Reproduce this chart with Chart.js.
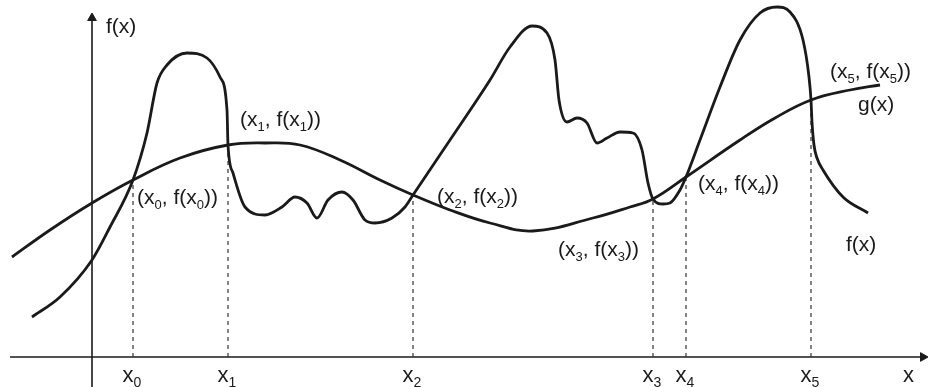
<!DOCTYPE html>
<html>
<head>
<meta charset="utf-8">
<script src="https://cdn.jsdelivr.net/npm/chart.js@4.4.1/dist/chart.umd.min.js"></script>
<style>
  html, body { margin: 0; padding: 0; background: #ffffff; }
  #wrap { width: 928px; height: 387px; }
</style>
</head>
<body>
<div id="wrap"><canvas id="plot" width="928" height="387"></canvas></div>
<script>
// f(x): the wiggly curve (origin at the axes crossing)
const fX = [-60, -32, 0, 18, 41, 55, 65, 75, 95, 115, 128, 135, 136, 141, 153, 173, 190, 203, 215, 225, 236, 250, 261, 273, 283, 300, 313, 321,
            358, 398, 418, 440, 455, 463, 467, 475, 485, 495, 505, 515, 528, 541, 550, 556, 561, 571, 578, 588, 594,
            608, 628, 648, 668, 685, 698, 711, 717, 719, 720, 722, 725, 731, 751, 776];
const fY = [40, 60, 97, 130, 177, 224, 274, 292, 304, 299, 280, 247, 212, 184, 150, 142, 150, 160, 154, 139, 157, 165, 157, 137, 134, 139, 150, 162,
            217, 277, 310, 331, 324, 297, 257, 235, 239, 234, 214, 219, 225, 224, 207, 174, 158, 153, 154, 167, 180,
            217, 270, 317, 344, 350, 345, 317, 280, 257, 235, 212, 199, 187, 160, 144];

// g(x): the smooth curve
const gX = [-80, -42, 0, 41, 88, 136, 173, 208, 248, 288, 321, 358, 398, 441, 501, 538, 561, 594, 648, 683, 719, 758, 788];
const gY = [100, 127, 154, 177, 199, 212, 214, 212, 197, 177, 162, 147, 134, 126, 139, 150, 158, 180, 217, 239, 257, 267, 272];

// points where f and g meet, and their tick labels
const crossX = [41, 136, 321, 561, 594, 719];
const crossY = [177, 212, 162, 158, 180, 257];
const tickLabels = ['x₀', 'x₁', 'x₂', 'x₃', 'x₄', 'x₅'];
const pointLabels = ['(x₀, f(x₀))', '(x₁, f(x₁))', '(x₂, f(x₂))', '(x₃, f(x₃))', '(x₄, f(x₄))', '(x₅, f(x₅))'];

const INK = '#1a1a1a';
const FONT = '"Liberation Sans", Arial, sans-serif';
const SUBS = '₀₁₂₃₄₅₆₇₈₉';

// draw text where ₀..₉ are drawn as lowered small digits
function drawRich(ctx, str, x, y, size, align) {
    const parts = [...str].map(ch => {
        const i = SUBS.indexOf(ch);
        return i >= 0 ? { t: String(i), sub: true } : { t: ch, sub: false };
    });
    const subSize = Math.round(size * 0.64);
    let total = 0;
    parts.forEach(p => {
        ctx.font = `${p.sub ? subSize : size}px ${FONT}`;
        p.w = ctx.measureText(p.t).width;
        total += p.w;
    });
    let cx = align === 'center' ? x - total / 2 : x;
    ctx.textAlign = 'left';
    ctx.textBaseline = 'alphabetic';
    parts.forEach(p => {
        ctx.font = `${p.sub ? subSize : size}px ${FONT}`;
        ctx.fillText(p.t, cx, p.sub ? y + size * 0.24 : y);
        cx += p.w;
    });
}

// label anchors in data units (left edge, baseline)
const labelSpots = [[45, 153], [148, 231], [345, 154], [466, 101], [606, 167], [738, 279]];

const textPlugin = {
    id: 'figureText',
    afterDatasetsDraw(chart) {
        const { ctx, scales: { x, y } } = chart;
        ctx.save();
        ctx.fillStyle = INK;
        pointLabels.forEach((s, i) => {
            drawRich(ctx, s, x.getPixelForValue(labelSpots[i][0]), y.getPixelForValue(labelSpots[i][1]), 21, 'left');
        });
        tickLabels.forEach((s, i) => {
            drawRich(ctx, s, x.getPixelForValue(crossX[i]) - 1, y.getPixelForValue(-25), 22, 'center');
        });
        drawRich(ctx, 'f(x)', x.getPixelForValue(14), y.getPixelForValue(324), 21, 'left');
        drawRich(ctx, 'g(x)', x.getPixelForValue(766), y.getPixelForValue(246), 21, 'left');
        drawRich(ctx, 'f(x)', x.getPixelForValue(754), y.getPixelForValue(106), 21, 'left');
        drawRich(ctx, 'x', x.getPixelForValue(811), y.getPixelForValue(-25), 22, 'left');
        ctx.restore();
    }
};

// dashed drops from each crossing to the x axis, split by gaps
const drops = [];
crossX.forEach((cx, i) => {
    drops.push({ x: cx, y: 0 }, { x: cx, y: crossY[i] }, { x: cx, y: null });
});

const line = (data, extra) => Object.assign({
    data, borderColor: INK, pointRadius: 0, fill: false, clip: false, spanGaps: false
}, extra);

new Chart(document.getElementById('plot'), {
    type: 'line',
    data: {
        datasets: [
            line(fX.map((v, i) => ({ x: v, y: fY[i] })), { borderWidth: 2.8, cubicInterpolationMode: 'monotone', order: 1 }),
            line(gX.map((v, i) => ({ x: v, y: gY[i] })), { borderWidth: 2.8, tension: 0.4, order: 1 }),
            line(drops, { borderWidth: 1.2, borderDash: [4, 4], borderColor: '#333', order: 2 }),
            line([{ x: -82, y: 0 }, { x: 831, y: 0 }], { borderWidth: 1.6, order: 3 }),
            line([{ x: 0, y: -30 }, { x: 0, y: 339 }], { borderWidth: 1.6, order: 3 }),
            {
                type: 'scatter',
                data: [{ x: 0, y: 339 }, { x: 831, y: 0 }],
                pointStyle: 'triangle',
                rotation: [0, 90],
                radius: 5,
                backgroundColor: INK,
                borderColor: INK,
                borderWidth: 1,
                clip: false,
                order: 0
            }
        ]
    },
    options: {
        responsive: false,
        animation: false,
        devicePixelRatio: 1,
        layout: { padding: 0, autoPadding: false },
        scales: {
            x: { type: 'linear', min: -92, max: 836, display: false },
            y: { type: 'linear', min: -30, max: 357, display: false }
        },
        plugins: { legend: { display: false }, tooltip: { enabled: false } }
    },
    plugins: [textPlugin]
});
</script>
</body>
</html>
